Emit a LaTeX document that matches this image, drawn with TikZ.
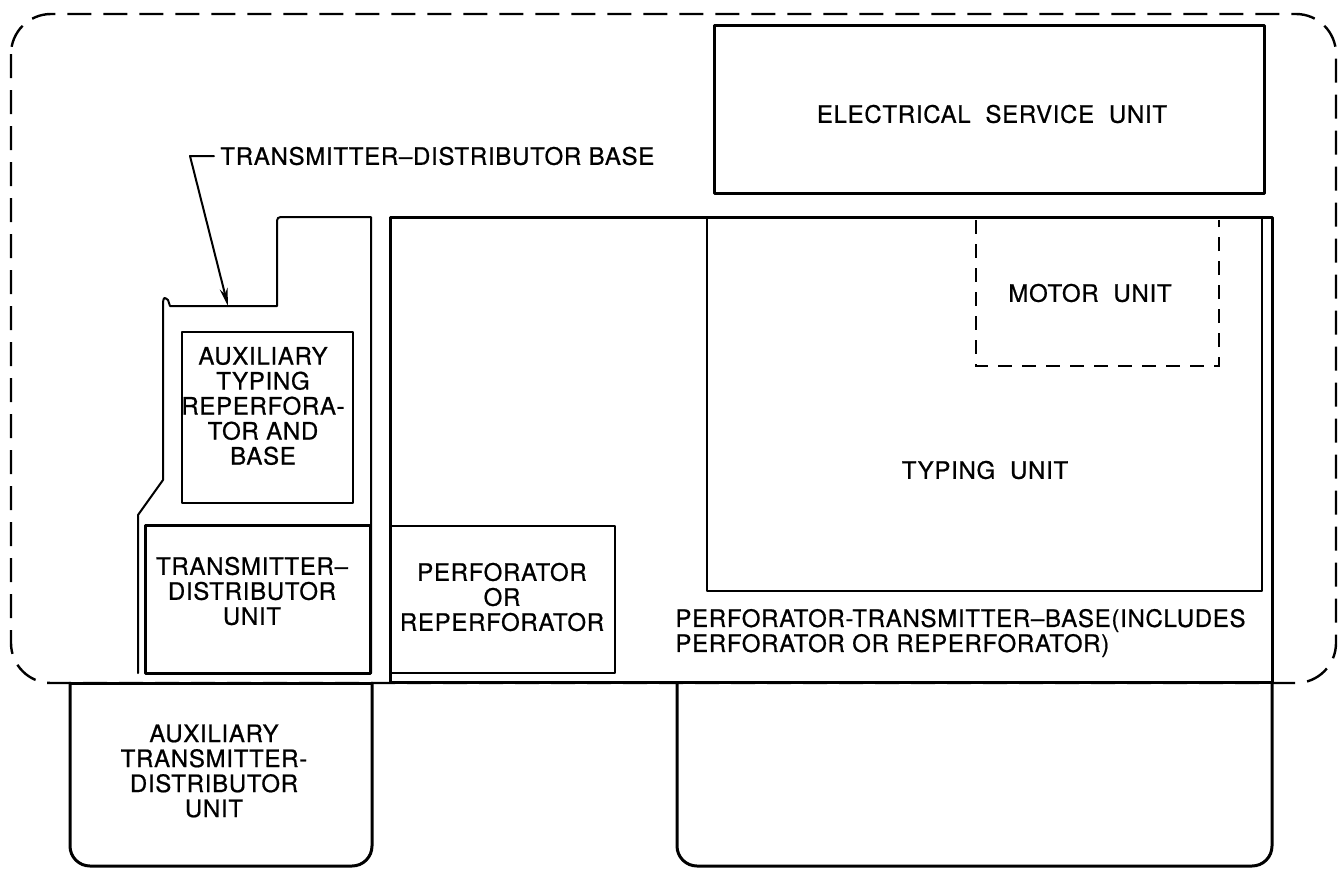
\documentclass[tikz,border=0pt]{standalone}
\usepackage{fontspec}
\setmainfont[FakeBold=0.7,LetterSpace=3]{TeX Gyre Heros}
\usetikzlibrary{arrows.meta}
\begin{document}
\begin{tikzpicture}[x=0.5pt,y=-0.5pt,
  heavy/.style={line width=1.5pt, line cap=round, line join=round},
  light/.style={line width=1pt, line cap=round, line join=round},
  outline/.style={line width=1.2pt, dash pattern=on 12pt off 6pt, rounded corners=20pt},
  motordash/.style={line width=1.1pt, dash pattern=on 7pt off 5pt},
  lbl/.style={font=\fontsize{12}{12.5}\selectfont, align=center, inner sep=0pt},
]
\useasboundingbox (0,0) rectangle (1339,868);

% dashed enclosure
\draw[outline] (11,14) rectangle (1336,683);

% electrical service unit
\draw[heavy] (714,25) rectangle (1264,193);
\node[lbl] (esu) at (992,114) {ELECTRICAL\ \ SERVICE\ \ UNIT};

% perforator-transmitter-base (main box)
\draw[heavy] (390,217) rectangle (1272,682);

% typing unit
\draw[light] (707,218) rectangle (1262,591);
\node[lbl] (typing) at (985,470) {TYPING\ \ UNIT};

% motor unit (dashed)
\draw[motordash] (976,220) -- (976,366) -- (1219,366) -- (1219,220);
\node[lbl] (motor) at (1090,293) {MOTOR\ \ UNIT};

% perforator or reperforator
\draw[light] (390,526) rectangle (615,673);
\node[lbl] (perf) at (502,597) {PERFORATOR\\OR\\REPERFORATOR};

% main box caption
\node[lbl, align=left, anchor=west] (ptb) at (675,633)
  {PERFORATOR-TRANSMITTER--BASE(INCLUDES\\PERFORATOR OR REPERFORATOR)};

% transmitter-distributor base outline
\draw[light] (138,673) -- (138,515) -- (163,480) -- (163,302)
  .. controls (164,297) .. (168,300) -- (170,306) -- (277,306) -- (277,225)
  .. controls (277,217) .. (285,217) -- (371,217) -- (371,673);

% auxiliary typing reperforator and base
\draw[light] (182,332) rectangle (353,503);
\node[lbl] (auxtyp) at (263,406) {AUXILIARY\\TYPING\\REPERFORA-\\TOR AND\\BASE};

% transmitter-distributor unit
\draw[heavy] (145,525) rectangle (370,673);
\node[lbl] (tdu) at (252,591) {TRANSMITTER--\\DISTRIBUTOR\\UNIT};

% auxiliary transmitter-distributor unit
\draw[heavy, rounded corners=10pt] (70,683) -- (70,866) -- (372,866) -- (372,683);
\draw[heavy] (70,683) -- (372,683);
\node[lbl] (auxtd) at (214,771) {AUXILIARY\\TRANSMITTER-\\DISTRIBUTOR\\UNIT};

% lower part of perforator-transmitter-base
\draw[heavy, rounded corners=10pt] (677,683) -- (677,866) -- (1272,866) -- (1272,683);

% leader label
\node[lbl, anchor=west, inner xsep=3pt] (tdbase) at (214,156) {TRANSMITTER--DISTRIBUTOR BASE};
\coordinate (lc) at (190,156);
\coordinate (tip) at (228,306);
\draw[light, -{Stealth[length=9pt,width=4pt]}] (tdbase.west) -- (lc) -- (tip);
\end{tikzpicture}
\end{document}
